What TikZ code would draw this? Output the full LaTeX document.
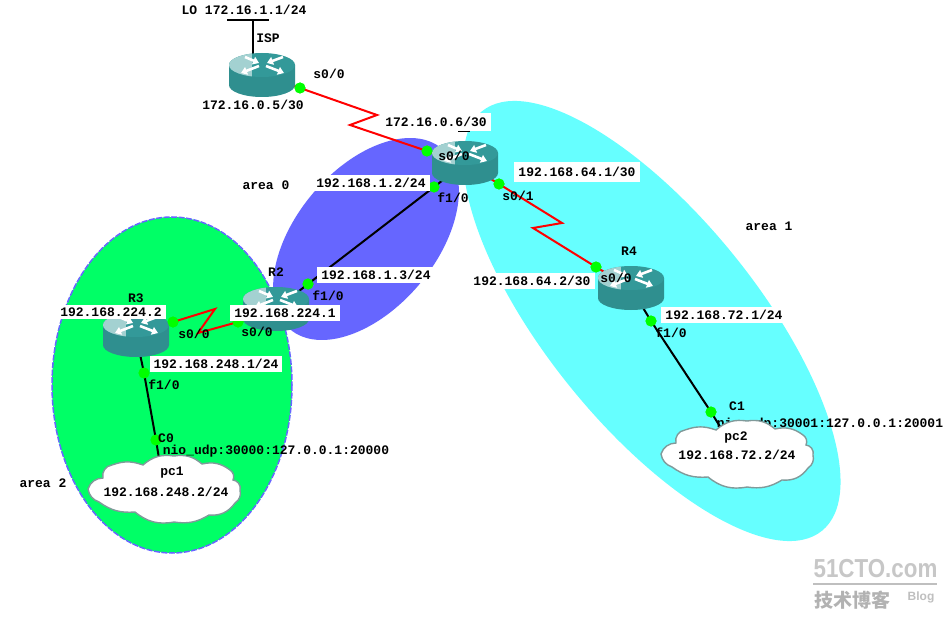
\documentclass[tikz,border=0pt]{standalone}
\usepackage{fontspec}
\setmonofont{Liberation Mono}
\newfontfamily\cjkwm{Noto Sans CJK SC}
\setmainfont{Liberation Sans}
\usetikzlibrary{arrows.meta}
\definecolor{areagreen}{HTML}{00FF66}
\definecolor{areablue}{HTML}{6666FF}
\definecolor{areacyan}{HTML}{66FFFF}
\definecolor{rteal}{HTML}{339999}
\definecolor{rdark}{HTML}{2F8F8F}
\definecolor{rlight}{HTML}{A3D1D1}
\definecolor{cloudedge}{HTML}{809A9A}
\tikzset{
  lab/.style={font=\ttfamily\bfseries\fontsize{13}{13}\selectfont,inner sep=0pt,text=black},
  labbg/.style={lab,fill=white,inner xsep=4pt,inner ysep=3pt},
  port/.style={circle,fill=green,draw=none,minimum size=11pt,inner sep=0pt},
  routerbox/.style={minimum width=66pt,minimum height=44pt,inner sep=0pt},
  serial/.style={draw=red,line width=2pt},
  eth/.style={draw=black,line width=2pt},
  router/.pic={
    \fill[rdark] (-33,-10) -- (-33,10) arc[x radius=33,y radius=12,start angle=180,end angle=0] -- (33,-10) -- cycle;
    \fill[rteal] (0,-10) ellipse[x radius=33,y radius=12];
    \begin{scope}
      \clip (0,-10) ellipse[x radius=33,y radius=12];
      \fill[rlight] (-34,-23) rectangle (-10,3);
    \end{scope}
    \draw[white,line width=2.6pt,-{Triangle[length=6pt,width=8pt]}] (-17,-18) -- (-3,-12);
    \draw[white,line width=2.6pt,-{Triangle[length=6pt,width=8pt]}] (21,-18) -- (5,-12);
    \draw[white,line width=2.6pt,-{Triangle[length=6pt,width=8pt]}] (-3,-9) -- (-21,-2);
    \draw[white,line width=2.6pt,-{Triangle[length=6pt,width=8pt]}] (4,-9) -- (22,-2);
  },
  cloudpic/.pic={
    \draw[fill=white,draw=cloudedge,line width=1.4pt]
      (-76,0) to[bend left=35] (-61,-11) to[bend left=50] (-52,-24)
      to[bend left=20] (-21,-24) to[bend left=25] (10,-33) to[bend left=25] (38,-25)
      to[bend left=25] (66,-19) to[bend left=40] (69,-9) to[bend left=50] (76,1)
      to[bend left=35] (71,14) to[bend left=30] (45,26) to[bend left=20] (10,33)
      to[bend left=25] (-29,23) to[bend left=20] (-65,13) to[bend left=30] (-76,0) -- cycle;
  }
}
\begin{document}
\begin{tikzpicture}[x=1pt,y=-1pt]
\useasboundingbox (0,0) rectangle (951,623);
\fill[white] (0,0) rectangle (951,623);
% areas
\fill[areacyan] (652,321) ellipse[x radius=270,y radius=105,rotate=-51];
\fill[areablue] (366,239) ellipse[x radius=118,y radius=70,rotate=50];
\draw[blue!60!white,fill=areagreen,line width=1.5pt,dash pattern=on 6pt off 1.5pt] (172,385) ellipse[x radius=120,y radius=168];
% router nodes
\node[routerbox] (isp) at (262,75) {};
\node[routerbox] (r1) at (465,163) {};
\node[routerbox] (r2) at (276,309) {};
\node[routerbox] (r3) at (136,335) {};
\node[routerbox] (r4) at (631,288) {};
% port nodes
\node[port] (pisp) at (300,88) {};
\node[port] (pr1a) at (427,151) {};
\node[port] (pr1b) at (434,187) {};
\node[port] (pr1c) at (499,184) {};
\node[port] (pr4a) at (596,267) {};
\node[port] (pr4b) at (651,321) {};
\node[port] (pc1p) at (711,412) {};
\node[port] (pr2b) at (308,284) {};
\node[port] (pr2a) at (238,322) {};
\node[port] (pr3a) at (173,322) {};
\node[port] (pr3b) at (144,373) {};
\node[port] (pc0p) at (156,440) {};
\coordinate (lotop) at (253,20);
\coordinate (lol) at (227,20);
\coordinate (lor) at (269,20);
\coordinate (cldpc1) at (164,489);
\coordinate (cldpc2) at (737,454);
% connectors
\draw[eth] (lol) -- (lor);
\draw[eth,line width=2.6pt] (lotop) -- (253,56);
\draw[serial] (isp.center) -- (pisp.center) -- (377,115) -- (350,125) -- (pr1a.center) -- (r1.center);
\draw[serial] (r1.center) -- (pr1c.center) -- (562,223) -- (533,228) -- (pr4a.center) -- (r4.center);
\draw[serial] (r3.center) -- (pr3a.center) -- (215,309) -- (198,333) -- (pr2a.center) -- (r2.center);
\draw[eth] (r1.center) -- (pr1b.center) -- (pr2b.center) -- (r2.center);
\draw[eth] (r4.center) -- (pr4b.center) -- (pc1p.center) -- (cldpc2);
\draw[eth] (r3.center) -- (pr3b.center) -- (pc0p.center) -- (cldpc1);
% router pictures
\foreach \rr in {isp,r1,r2,r3,r4} {\pic at (\rr.center) {router};}
% ports on top
\foreach \xx/\yy in {300/88,427/151,434/187,499/184,596/267,651/321,711/412,308/284,238/322,173/322,144/373,156/440}
  {\fill[green] (\xx,\yy) circle[radius=5.5];}
% texts under clouds
\node[lab] (tnio1) at (830,424) {nio\_udp:30001:127.0.0.1:20001};
\pic at (cldpc1) {cloudpic};
\pic at (cldpc2) {cloudpic};
\node[lab] (tnio0) at (276,451) {nio\_udp:30000:127.0.0.1:20000};
% labels
\node[lab] (t1) at (244,10) {LO 172.16.1.1/24};
\node[lab] (t2) at (268,38) {ISP};
\node[lab] (t3) at (329,74) {s0/0};
\node[lab] (t4) at (253,105) {172.16.0.5/30};
\draw[black,line width=1pt] (458,131.5) -- (470,131.5);
\node[labbg,inner ysep=4pt] (t5) at (436,122) {172.16.0.6/30};
\node[lab] (t6) at (454,156) {s0/0};
\node[lab] (t7) at (266,185) {area 0};
\node[labbg] (t8) at (371,183) {192.168.1.2/24};
\node[lab] (t9) at (453,198) {f1/0};
\node[lab] (t10) at (518,196) {s0/1};
\node[labbg,inner ysep=5pt] (t11) at (577,172) {192.168.64.1/30};
\node[lab] (t12) at (769,226) {area 1};
\node[lab] (t13) at (629,251) {R4};
\node[labbg] (t14) at (532,281) {192.168.64.2/30};
\node[lab] (t15) at (616,278) {s0/0};
\node[labbg] (t16) at (724,315) {192.168.72.1/24};
\node[lab] (t17) at (671,333) {f1/0};
\node[lab] (t18) at (737,406) {C1};
\node[lab] (t19) at (736,437) {pc2};
\node[lab] (t20) at (737,455) {192.168.72.2/24};
\node[lab] (t21) at (276,272) {R2};
\node[labbg] (t22) at (376,275) {192.168.1.3/24};
\node[lab] (t23) at (328,296) {f1/0};
\node[labbg,inner ysep=4pt] (t24) at (285,313) {192.168.224.1};
\node[lab] (t25) at (257,332) {s0/0};
\node[lab] (t26) at (136,298) {R3};
\node[labbg] (t27) at (111,312) {192.168.224.2};
\node[lab] (t28) at (194,334) {s0/0};
\node[labbg] (t29) at (216,364) {192.168.248.1/24};
\node[lab] (t30) at (164,385) {f1/0};
\node[lab] (t31) at (166,438) {C0};
\node[lab] (t32) at (172,473) {pc1};
\node[lab] (t33) at (166,492) {192.168.248.2/24};
\node[lab] (t34) at (43,483) {area 2};
% watermark
\node[font=\bfseries\fontsize{26}{26}\selectfont,text=black!22,inner sep=0pt,xscale=.86,transform shape] (w1) at (875.5,569) {51CTO.com};
\draw[black!25,line width=2pt] (813,584) -- (937,584);
\node[font=\cjkwm\bfseries\fontsize{19}{19}\selectfont,text=black!30,inner sep=0pt] (w2) at (852,600) {技术博客};
\node[font=\bfseries\fontsize{12}{12}\selectfont,text=black!25,inner sep=0pt] (w3) at (921,597) {Blog};
\end{tikzpicture}
\end{document}
